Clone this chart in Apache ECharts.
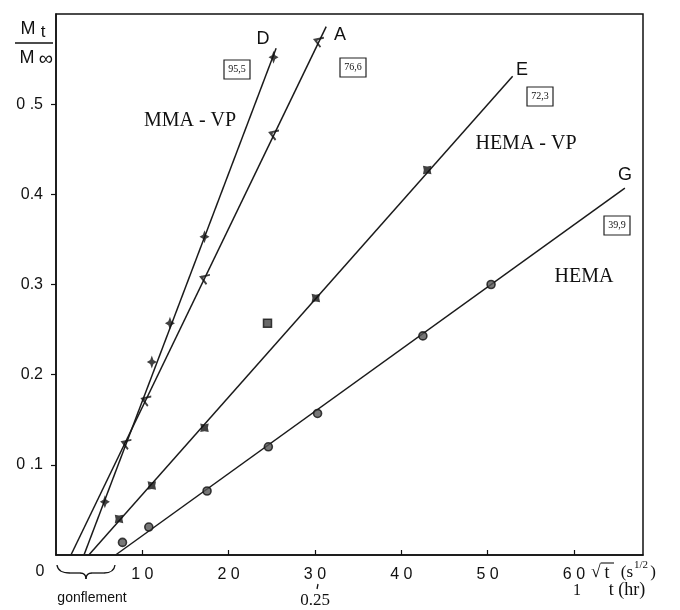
<!DOCTYPE html>
<html>
<head>
<meta charset="utf-8">
<script src="https://cdn.jsdelivr.net/npm/echarts@6/dist/echarts.min.js"></script>
<style>
html,body{margin:0;padding:0;background:#fff;}
#c{width:680px;height:610px;}
</style>
</head>
<body>
<div id="c"></div>
<script>
// ---- data (x = sqrt(t) in s^1/2, y = Mt/Minf) ----
const dX = [5.66, 11.1, 13.2, 17.2, 25.2];
const dY = [0.059, 0.214, 0.257, 0.353, 0.552];
const dLineX = [3.24, 25.5];
const dLineY = [0, 0.562];

const aX = [8.1, 10.4, 17.2, 25.2, 30.4];
const aY = [0.124, 0.172, 0.307, 0.467, 0.570];
const aLineX = [1.73, 31.3];
const aLineY = [0, 0.586];

const eX = [7.3, 11.1, 17.2, 30.1, 43.0];
const eY = [0.040, 0.077, 0.141, 0.285, 0.427];
const eLineX = [3.8, 52.9];
const eLineY = [0, 0.531];
const outlierX = [24.5];
const outlierY = [0.257];

const gX = [7.7, 10.75, 17.5, 24.6, 30.3, 42.5, 50.4];
const gY = [0.014, 0.031, 0.071, 0.120, 0.157, 0.243, 0.300];
const gLineX = [6.9, 65.9];
const gLineY = [0, 0.407];

const xTickValues = [10, 20, 30, 40, 50, 60];
const xTickLabels = ['1 0', '2 0', '3 0', '4 0', '5 0', '6 0'];
const yTickValues = [0.1, 0.2, 0.3, 0.4, 0.5];
const yTickLabels = ['0 .1', '0.2', '0.3', '0.4', '0 .5'];

const curveNames = ['D', 'A', 'E', 'G'];
const boxValues = ['95,5', '76,6', '72,3', '39,9'];
const groupNames = ['MMA - VP', 'HEMA - VP', 'HEMA'];

function zip(xs, ys) { return xs.map((x, i) => [x, ys[i]]); }

const chart = echarts.init(document.getElementById('c'), null, {renderer: 'canvas'});

const lineStyle = {color: '#1a1a1a', width: 1.5};
const starPath = 'path://M5,0 L6.6,3.4 L10,5 L6.6,6.6 L5,10 L3.4,6.6 L0,5 L3.4,3.4 Z';
const fatStar = 'path://M5,0 L7,3 L10,5 L7,7 L5,10 L3,7 L0,5 L3,3 Z';
const chevron = 'path://M10,0 L0,5 L10,10 M0,5 L4,5';

function lineSeries(xs, ys) {
  return {type: 'line', data: zip(xs, ys), showSymbol: false, symbol: 'none',
    lineStyle: lineStyle, z: 2, silent: true, animation: false};
}

const serif = 'Liberation Serif';
const sans = 'Liberation Sans';

function txt(x, y, text, font, extra) {
  return Object.assign({type: 'text', x: x, y: y, z: 10,
    style: Object.assign({text: text, font: font, fill: '#111',
      align: 'center', verticalAlign: 'middle', textAlign: 'center', textVerticalAlign: 'middle'}, extra || {})});
}
function box(x, y, text) {
  return {type: 'group', x: x, y: y, z: 10, children: [
    {type: 'rect', shape: {x: -13, y: -9, width: 26, height: 19}, style: {fill: '#fff', stroke: '#222', lineWidth: 1.2}},
    {type: 'text', x: 0, y: 0.5, style: {text: text, font: '10px ' + serif, fill: '#111', align: 'center', verticalAlign: 'middle', textAlign: 'center', textVerticalAlign: 'middle'}}
  ]};
}
const stroke = {fill: 'none', stroke: '#111', lineWidth: 1.3};
function bez(x1, y1, cx, cy, x2, y2) {
  return {type: 'bezierCurve', z: 10, shape: {x1: x1, y1: y1, cpx1: cx, cpy1: cy, x2: x2, y2: y2}, style: stroke};
}
function seg(x1, y1, x2, y2, w) {
  return {type: 'line', z: 10, shape: {x1: x1, y1: y1, x2: x2, y2: y2}, style: Object.assign({}, stroke, w ? {lineWidth: w} : {})};
}

const option = {
  backgroundColor: '#fff',
  animation: false,
  grid: {left: 56, top: 14, right: 37, bottom: 55, show: true, borderColor: '#111', borderWidth: 1.5, containLabel: false},
  xAxis: {
    type: 'value', min: 0, max: 68, interval: 10,
    axisLine: {show: true, onZero: false, lineStyle: {color: '#111', width: 1.5}},
    axisTick: {show: true, inside: true, length: 5, customValues: xTickValues, lineStyle: {color: '#111', width: 1.2}},
    splitLine: {show: false},
    axisLabel: {margin: 12, fontFamily: sans, fontSize: 16, color: '#111', customValues: xTickValues,
      formatter: v => { const i = xTickValues.indexOf(Math.round(v)); return i >= 0 ? xTickLabels[i] : ''; }}
  },
  yAxis: {
    type: 'value', min: 0, max: 0.6, interval: 0.1,
    axisLine: {show: true, onZero: false, lineStyle: {color: '#111', width: 1.5}},
    axisTick: {show: true, inside: false, length: 5, customValues: yTickValues, lineStyle: {color: '#111', width: 1.2}},
    splitLine: {show: false},
    axisLabel: {margin: 13, fontFamily: sans, fontSize: 16, color: '#111', customValues: yTickValues,
      formatter: v => { const k = Math.round(v * 10); const i = yTickValues.findIndex(t => Math.round(t * 10) === k); return i >= 0 ? yTickLabels[i] : ''; }}
  },
  series: [
    lineSeries(dLineX, dLineY),
    lineSeries(aLineX, aLineY),
    lineSeries(eLineX, eLineY),
    lineSeries(gLineX, gLineY),
    {type: 'scatter', data: zip(dX, dY), symbol: starPath, symbolSize: [10, 13], itemStyle: {color: '#111'}, z: 5},
    {type: 'scatter', data: zip(aX, aY), symbol: chevron, symbolSize: [8, 10], symbolRotate: -20,
      itemStyle: {color: 'rgba(0,0,0,0)', borderColor: '#111', borderWidth: 1.8}, z: 5},
    {type: 'scatter', data: zip(eX, eY), symbol: fatStar, symbolSize: 12, symbolRotate: 45, itemStyle: {color: '#111'}, z: 5},
    {type: 'scatter', data: zip(outlierX, outlierY), symbol: 'rect', symbolSize: 8, itemStyle: {color: '#444', borderColor: '#111', borderWidth: 1.5}, z: 5},
    {type: 'scatter', data: zip(gX, gY), symbol: 'circle', symbolSize: 8, itemStyle: {color: '#555', borderColor: '#111', borderWidth: 1.6}, z: 5}
  ],
  graphic: [
    // y axis title Mt / M∞
    txt(28, 29, 'M', '18px ' + sans),
    txt(43, 32, 't', '17px ' + sans),
    seg(15, 43, 53, 43),
    txt(27, 58, 'M', '18px ' + sans),
    txt(46, 59, '∞', '20px ' + sans),
    // origin label
    txt(40, 572, '0', '16px ' + sans),
    // curve names
    txt(263, 39, curveNames[0], '18px ' + sans),
    txt(340, 35, curveNames[1], '18px ' + sans),
    txt(522, 70, curveNames[2], '18px ' + sans),
    txt(625, 175, curveNames[3], '18px ' + sans),
    // boxed values
    box(237, 69, boxValues[0]),
    box(353, 67, boxValues[1]),
    box(540, 96, boxValues[2]),
    box(617, 225, boxValues[3]),
    // group labels
    txt(190, 121, groupNames[0], '20px ' + serif),
    txt(526, 144, groupNames[1], '20px ' + serif),
    txt(584, 277, groupNames[2], '20px ' + serif),
    // brace + gonflement
    bez(57, 565, 58, 573, 70, 573),
    seg(70, 573, 80, 573),
    bez(80, 573, 86, 573, 86, 579),
    bez(86, 579, 86, 573, 92, 573),
    seg(92, 573, 104, 573),
    bez(104, 573, 114, 573, 115, 565),
    txt(92, 598, 'gonflement', '14px ' + sans),
    // secondary labels
    seg(318, 584, 317, 589),
    txt(315, 601, '0.25', '17px ' + serif),
    txt(596, 572, '√', '18px ' + serif),
    txt(607, 573, 't', '18px ' + serif),
    seg(601, 563, 614, 563, 1.1),
    txt(627, 573, '(s', '17px ' + serif),
    txt(641, 565, '1/2', '11px ' + serif),
    txt(653, 573, ')', '17px ' + serif),
    txt(577, 591, '1', '16px ' + serif),
    txt(627, 590, 't (hr)', '18px ' + serif)
  ]
};
chart.setOption(option);
</script>
</body>
</html>
